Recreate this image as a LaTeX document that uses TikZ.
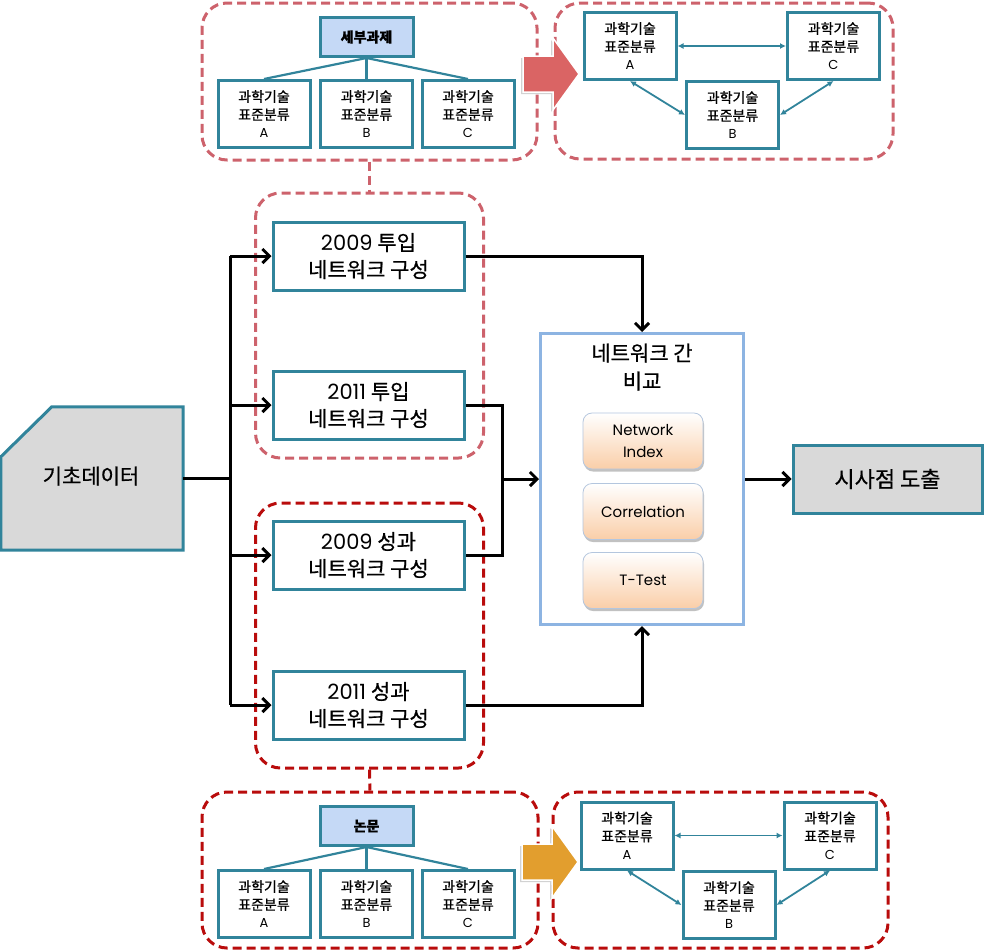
\documentclass[tikz,border=0pt]{standalone}
\usepackage{fontspec}
\setmainfont{Noto Sans CJK KR}[FakeBold=0.6]
\newfontfamily\lat{Poppins}
\usetikzlibrary{arrows.meta,shadows,calc}
\definecolor{tealc}{RGB}{49,132,155}
\definecolor{grayfill}{RGB}{217,217,217}
\definecolor{hdblue}{RGB}{197,217,246}
\definecolor{pinkred}{RGB}{205,98,108}
\definecolor{darkred}{RGB}{185,12,12}
\definecolor{cmpblue}{RGB}{141,180,226}
\definecolor{peach}{RGB}{250,206,168}
\definecolor{inborder}{RGB}{180,198,222}
\definecolor{redarrow}{RGB}{218,100,100}
\definecolor{orarrow}{RGB}{226,158,46}
\begin{document}
\begin{tikzpicture}[x=1pt,y=-1pt,
  tealbox/.style={draw=tealc, line width=3pt, fill=white, inner sep=0pt, align=center},
  bigbox/.style={tealbox, minimum width=191pt, minimum height=68pt, font=\fontsize{21}{27}\selectfont},
  smallbox/.style={tealbox, minimum width=92pt, minimum height=67pt, font=\fontsize{14}{18}\selectfont},
  headbox/.style={tealbox, fill=hdblue, minimum width=93pt, minimum height=39pt, font=\fontsize{14}{16}\selectfont\bfseries},
  grpA/.style={draw=pinkred, line width=3pt, dash pattern=on 9pt off 5pt, rounded corners=25pt, inner sep=0pt},
  grpB/.style={draw=darkred, line width=3pt, dash pattern=on 9pt off 5pt, rounded corners=25pt, inner sep=0pt},
  conn/.style={line width=3pt, black},
  arr/.style={-{Straight Barb[length=7pt,width=14pt]}},
  tline/.style={draw=tealc, line width=2.2pt},
  biarr/.style={tealc, line width=1.8pt, {Latex[length=6pt,width=6pt]}-{Latex[length=6pt,width=6pt]}},
  inbox/.style={rounded corners=9pt, draw=inborder, line width=0.8pt, top color=white, bottom color=peach,
    minimum width=120pt, minimum height=56pt, align=center, font=\lat\fontsize{15}{22}\selectfont,
    drop shadow={shadow xshift=1pt, shadow yshift=-2.5pt, fill=black!40, opacity=0.6}},
  blockarr/.style={draw=white, line width=1.5pt, drop shadow={shadow xshift=-2pt, shadow yshift=-2pt, fill=black!35, opacity=0.5}},
  abc/.style={}
]
\useasboundingbox (0,0) rectangle (984,951);

% dashed groups
\node[grpA, minimum width=335pt, minimum height=157pt] (gTL) at (369.5,81.5) {};
\node[grpA, minimum width=338pt, minimum height=156pt] (gTR) at (724,81) {};
\node[grpA, minimum width=228pt, minimum height=265pt] (gM1) at (369.5,325.5) {};
\node[grpB, minimum width=228pt, minimum height=265pt] (gM2) at (369.5,635.5) {};
\node[grpB, minimum width=336pt, minimum height=156pt] (gBL) at (370,870) {};
\node[grpB, minimum width=335pt, minimum height=156pt] (gBR) at (720.5,870) {};
\draw[draw=pinkred, line width=3pt, dash pattern=on 9pt off 5pt] (gTL.south) -- (gM1.north);
\draw[draw=darkred, line width=3pt, dash pattern=on 9pt off 5pt] (gM2.south) -- (gBL.north);

% top-left tree
\node[headbox] (hdT) at (366.5,37) {세부과제};
\node[smallbox] (tA) at (264,114) {과학기술\\표준분류\\{\lat\fontsize{13}{18}\selectfont A}};
\node[smallbox] (tB) at (366.5,114) {과학기술\\표준분류\\{\lat\fontsize{13}{18}\selectfont B}};
\node[smallbox] (tC) at (468,114) {과학기술\\표준분류\\{\lat\fontsize{13}{18}\selectfont C}};
\draw[tline] (hdT.south) -- (tA.north);
\draw[tline] (hdT.south) -- (tB.north);
\draw[tline] (hdT.south) -- (tC.north);

% top-right network
\node[smallbox] (rA) at (630,46) {과학기술\\표준분류\\{\lat\fontsize{13}{18}\selectfont A}};
\node[smallbox] (rC) at (833.5,46) {과학기술\\표준분류\\{\lat\fontsize{13}{18}\selectfont C}};
\node[smallbox] (rB) at (732.5,115) {과학기술\\표준분류\\{\lat\fontsize{13}{18}\selectfont B}};
\draw[biarr] (rA.east) -- (rC.west);
\draw[biarr] (rA.south) -- (rB.west);
\draw[biarr] (rC.south) -- (rB.east);

% bottom-left tree
\node[headbox] (hdB) at (366.5,826) {논문};
\node[smallbox] (bA) at (264,904) {과학기술\\표준분류\\{\lat\fontsize{13}{18}\selectfont A}};
\node[smallbox] (bB) at (366.5,904) {과학기술\\표준분류\\{\lat\fontsize{13}{18}\selectfont B}};
\node[smallbox] (bC) at (468,904) {과학기술\\표준분류\\{\lat\fontsize{13}{18}\selectfont C}};
\draw[tline] (hdB.south) -- (bA.north);
\draw[tline] (hdB.south) -- (bB.north);
\draw[tline] (hdB.south) -- (bC.north);

% bottom-right network
\node[smallbox] (sA) at (627,835.5) {과학기술\\표준분류\\{\lat\fontsize{13}{18}\selectfont A}};
\node[smallbox] (sC) at (830,835.5) {과학기술\\표준분류\\{\lat\fontsize{13}{18}\selectfont C}};
\node[smallbox] (sB) at (729,905) {과학기술\\표준분류\\{\lat\fontsize{13}{18}\selectfont B}};
\draw[biarr] (sA.east) -- (sC.west);
\draw[biarr] (sA.south) -- (sB.west);
\draw[biarr] (sC.south) -- (sB.east);

% block arrows
\fill[redarrow, blockarr] (523,56) -- (553,56) -- (553,38) -- (579,74) -- (553,110) -- (553,92) -- (523,92) -- cycle;
\fill[orarrow, blockarr] (522,844) -- (552,844) -- (552,826) -- (578,862) -- (552,898) -- (552,880) -- (522,880) -- cycle;

% base data
\node[minimum width=182pt, minimum height=143pt, inner sep=0pt] (base) at (92,478.5) {};
\filldraw[fill=grayfill, draw=tealc, line width=3pt]
  ($(base.north west)+(0,50)$) -- ($(base.north west)+(51,0)$) -- (base.north east)
  -- (base.south east) -- (base.south west) -- cycle;
\node[font=\fontsize{21}{24}\selectfont] (baseT) at (91,476) {기초데이터};

% middle boxes
\node[bigbox] (i09) at (368.5,256) {{\lat 2009} 투입\\네트워크 구성};
\node[bigbox] (i11) at (368.5,405) {{\lat 2011} 투입\\네트워크 구성};
\node[bigbox] (p09) at (368.5,555) {{\lat 2009} 성과\\네트워크 구성};
\node[bigbox] (p11) at (368.5,705) {{\lat 2011} 성과\\네트워크 구성};

% comparison box
\node[draw=cmpblue, line width=3pt, fill=white, minimum width=203pt, minimum height=291pt, inner sep=0pt] (cmp) at (642,479) {};
\node[align=center, font=\fontsize{21}{28}\selectfont] (cmpT) at (642,367) {네트워크 간\\비교};
\node[inbox] (ni) at (643,441) {Network\\Index};
\node[inbox] (co) at (643,511.5) {Correlation};
\node[inbox] (tt) at (643,580.5) {T-Test};

% result
\node[tealbox, fill=grayfill, minimum width=189pt, minimum height=68pt, font=\fontsize{22}{24}\selectfont] (res) at (887.5,479) {시사점 도출};

% connectors
\coordinate (j) at (230,478.5);
\coordinate (m) at (502,479);
\draw[conn] (base.east) -- (j);
\draw[conn] (j |- i09.west) -- (j |- p11.west);
\draw[conn, arr] (j |- i09.west) -- (i09.west);
\draw[conn, arr] (j |- i11.west) -- (i11.west);
\draw[conn, arr] (j |- p09.west) -- (p09.west);
\draw[conn, arr] (j |- p11.west) -- (p11.west);
\draw[conn, arr] (i09.east) -| (cmp.north);
\draw[conn, arr] (p11.east) -| (cmp.south);
\draw[conn] (i11.east) -| (m) |- (p09.east);
\draw[conn, arr] (m) -- (cmp.west |- m);
\draw[conn, arr] (cmp.east) -- (res.west);
\end{tikzpicture}
\end{document}
